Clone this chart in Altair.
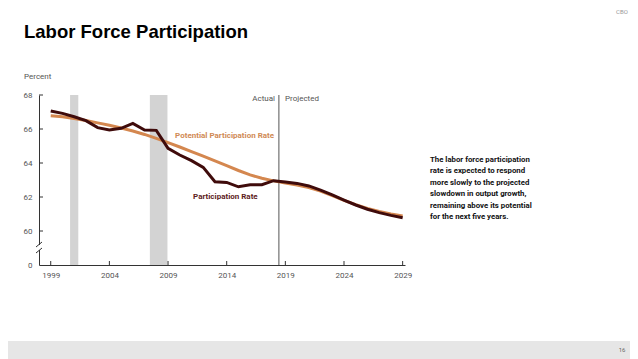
import altair as alt
import pandas as pd

years = list(range(1999, 2030))
participation = [67.06, 66.92, 66.72, 66.49, 66.08, 65.94, 66.04, 66.33, 65.94, 65.92,
                 64.86, 64.47, 64.14, 63.74, 62.90, 62.86, 62.60, 62.72, 62.72, 62.96,
                 62.88, 62.80, 62.65, 62.41, 62.12, 61.82, 61.53, 61.28, 61.08, 60.92, 60.78]
potential = [66.78, 66.72, 66.62, 66.50, 66.36, 66.22, 66.06, 65.88, 65.68, 65.45,
             65.20, 64.94, 64.67, 64.40, 64.12, 63.84, 63.56, 63.30, 63.10, 62.95,
             62.82, 62.70, 62.55, 62.35, 62.08, 61.80, 61.55, 61.33, 61.15, 61.00, 60.88]
rec_start = [2000.65, 2007.45]
rec_end = [2001.35, 2008.95]
split_year = [2018.45]
x_ticks = [1999, 2004, 2009, 2014, 2019, 2024, 2029]
y_ticks = [58, 60, 62, 64, 66, 68]
y_inner_ticks = [60, 62, 64, 66, 68]
note_lines = ["The labor force participation", "rate is expected to respond",
              "more slowly to the projected", "slowdown in output growth,",
              "remaining above its potential", "for the next five years."]

W, H = 366, 170
FONT = "Liberation Sans Narrow, Roboto, sans-serif"
ORANGE = "#d4874f"
DARK = "#3f0b0b"

df = pd.DataFrame({"year": years, "part": participation, "pot": potential})
rec = pd.DataFrame({"s": rec_start, "e": rec_end})

xs = alt.Scale(domain=[1998, 2029.2], nice=False, zero=False)
ys = alt.Scale(domain=[58, 68], nice=False, zero=False)

x_axis = alt.Axis(values=x_ticks, format="d", title=None, grid=False, ticks=False,
                  domainColor="#333", domainWidth=1, labelFont=FONT, labelFontSize=8,
                  labelColor="#555", labelPadding=6, labelOverlap=False)
y_axis = alt.Axis(values=y_ticks, title=None, grid=False, ticks=False,
                  domainColor="#333", domainWidth=1, labelFont=FONT, labelFontSize=8,
                  labelColor="#555", labelPadding=7, labelOverlap=False,
                  labelFlush=False, labelBound=False,
                  labelExpr="datum.value == 58 ? '0' : format(datum.value, 'd')")

def X(field):
    return alt.X(field, type="quantitative", scale=xs, axis=x_axis)

def Y(field):
    return alt.Y(field, type="quantitative", scale=ys, axis=y_axis)

recess = alt.Chart(rec).mark_rect(color="#d3d3d3").encode(
    x=X("s"), x2="e:Q", y=alt.value(0), y2=alt.value(H))

split = alt.Chart(pd.DataFrame({"x": split_year})).mark_rule(color="#555", strokeWidth=1).encode(
    x=X("x"), y=alt.value(0), y2=alt.value(H))

pot_line = alt.Chart(df).mark_line(color=ORANGE, strokeWidth=3).encode(
    x=X("year"), y=Y("pot"))

part_line = alt.Chart(df).mark_line(color=DARK, strokeWidth=3).encode(
    x=X("year"), y=Y("part"))

xt = alt.Chart(pd.DataFrame({"t": x_ticks})).mark_rule(color="#333").encode(
    x=X("t"), y=alt.value(H - 4), y2=alt.value(H))
yt = alt.Chart(pd.DataFrame({"t": y_inner_ticks})).mark_rule(color="#333").encode(
    y=Y("t"), x=alt.value(0), x2=alt.value(4))

# axis break
brk_gap = alt.Chart(pd.DataFrame({"a": [0]})).mark_rect(color="white").encode(
    x=alt.value(-1), x2=alt.value(1.5), y=alt.value(150), y2=alt.value(155))
brk1 = alt.Chart(pd.DataFrame({"a": [0]})).mark_rule(color="#333").encode(
    x=alt.value(-3), x2=alt.value(3), y=alt.value(152), y2=alt.value(147))
brk2 = alt.Chart(pd.DataFrame({"a": [0]})).mark_rule(color="#333").encode(
    x=alt.value(-3), x2=alt.value(3), y=alt.value(158), y2=alt.value(153))

def txt(text, x, y, size=8.5, color="#555", align="left", weight="normal",
        font=FONT, baseline="middle"):
    return alt.Chart(pd.DataFrame({"a": [0]})).mark_text(
        text=text, fontSize=size, color=color, align=align, fontWeight=weight,
        font=font, baseline=baseline).encode(x=alt.value(x), y=alt.value(y))

lab_pot = alt.Chart(pd.DataFrame({"x": [2009.6], "y": [65.59]})).mark_text(
    text="Potential Participation Rate", fontSize=8, fontWeight="bold", font=FONT,
    color="#d08a55", align="left", baseline="middle").encode(x=X("x"), y=Y("y"))
lab_part = alt.Chart(pd.DataFrame({"x": [2011.13], "y": [62.02]})).mark_text(
    text="Participation Rate", fontSize=8, fontWeight="bold", font=FONT,
    color="#5e1c1c", align="left", baseline="middle").encode(x=X("x"), y=Y("y"))

title = txt("Labor Force Participation", -15, -57, size=18.5, color="#000",
            weight="bold", font="Liberation Sans, Arial, sans-serif", baseline="alphabetic")
percent = txt("Percent", -15, -18, size=8)
actual = txt("Actual", 236, 4, size=8, align="right")
projected = txt("Projected", 246, 4, size=8)
cbo = txt("CBO", 583, -83.5, size=6, color="#999", align="center")

note = alt.Chart(pd.DataFrame({"a": [0]})).mark_text(
    text=note_lines, fontSize=7.8, fontWeight="bold", font=FONT, color="#111",
    align="left", baseline="top", lineHeight=11.4).encode(
    x=alt.value(391), y=alt.value(61))

band = alt.Chart(pd.DataFrame({"a": [0]})).mark_rect(color="#e6e6e6").encode(
    x=alt.value(-39), x2=alt.value(599), y=alt.value(246), y2=alt.value(264))
page = txt("16", 583, 255, size=6, color="#666", align="center")

chart = alt.layer(
    recess, split, pot_line, part_line, xt, yt, brk_gap, brk1, brk2,
    lab_pot, lab_part, title, percent, actual, projected, cbo, note, band, page
).properties(
    width=W, height=H, autosize="none",
    padding={"left": 31, "top": 87, "right": 225, "bottom": 94}
).configure_view(stroke=None)

chart.save("out.html", embed_options={"renderer": "svg", "actions": False})
